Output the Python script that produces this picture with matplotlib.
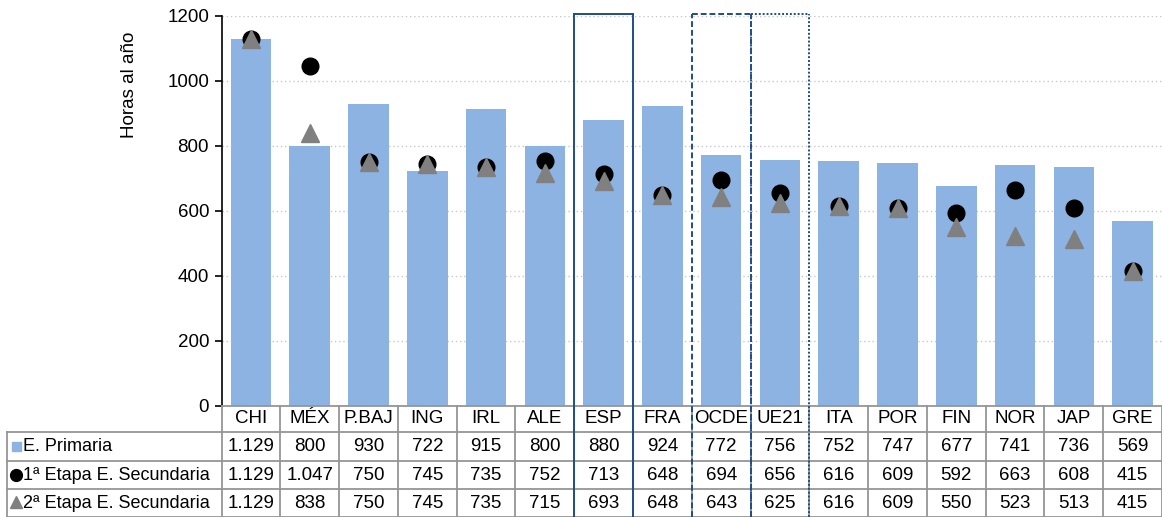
import matplotlib
matplotlib.use("Agg")
import matplotlib.pyplot as plt
from matplotlib.patches import Rectangle
from matplotlib.lines import Line2D
from matplotlib.transforms import blended_transform_factory

plt.rcParams['font.family'] = ['Liberation Sans', 'DejaVu Sans']

paises = ["CHI", "MÉX", "P.BAJ", "ING", "IRL", "ALE", "ESP", "FRA", "OCDE",
          "UE21", "ITA", "POR", "FIN", "NOR", "JAP", "GRE"]
primaria = [1129, 800, 930, 722, 915, 800, 880, 924, 772, 756, 752, 747, 677, 741, 736, 569]
sec1 = [1129, 1047, 750, 745, 735, 752, 713, 648, 694, 656, 616, 609, 592, 663, 608, 415]
sec2 = [1129, 838, 750, 745, 735, 715, 693, 648, 643, 625, 616, 609, 550, 523, 513, 415]
series = ["E. Primaria", "1ª Etapa E. Secundaria", "2ª Etapa E. Secundaria"]
yticks = [0, 200, 400, 600, 800, 1000, 1200]


def fmt(v):
    s = f"{v:,}"
    return s.replace(",", ".")


FS = 13.5
W, H = 1162, 517
fig = plt.figure(figsize=(W / 100, H / 100), dpi=100)
ax_left, ax_top, ax_bottom = 221.6, 16, 405.5
ax = fig.add_axes([ax_left / W, 1 - ax_bottom / H, 1 - ax_left / W, (ax_bottom - ax_top) / H])

bar_color = "#8DB3E2"
x = list(range(len(paises)))
ax.bar(x, primaria, width=0.69, color=bar_color, zorder=2)
ax.plot(x, sec1, linestyle="none", marker="o", markersize=12, color="black", zorder=3)
ax.plot(x, sec2, linestyle="none", marker="^", markersize=13, color="#808080", zorder=4)

ax.set_xlim(-0.5, len(paises) - 0.5)
ax.set_ylim(0, 1200)
ax.set_yticks(yticks)
ax.set_yticklabels([str(t) for t in yticks], fontsize=FS)
ax.set_xticks([])
ax.yaxis.grid(True, linestyle=(0, (1, 2)), color="#C8C8C8", linewidth=1, zorder=0)
for side in ["top", "right", "bottom"]:
    ax.spines[side].set_visible(False)
ax.spines["left"].set_linewidth(1.2)
ax.tick_params(axis="y", length=5, width=1.2, pad=4)

fig.text(130 / W, 1 - 85 / H, "Horas al año", rotation=90, fontsize=FS,
         ha="center", va="center")

# data table under the axes
tx = blended_transform_factory(ax.transData, fig.transFigure)
fy = lambda py: 1 - py / H
grid_c = "#959595"
rows = [405.5, 432, 461, 489, 517]
n = len(paises)

for i, p in enumerate(paises):
    fig.text(i, fy((rows[0] + rows[1]) / 2), p, transform=tx, ha="center",
             va="center", fontsize=FS)
for r, vals in enumerate([primaria, sec1, sec2]):
    yc = fy((rows[r + 1] + rows[r + 2]) / 2)
    for i, v in enumerate(vals):
        fig.text(i, yc, fmt(v), transform=tx, ha="center", va="center", fontsize=FS)

# horizontal grid of the table
fig.add_artist(Line2D([ax_left / W, 1], [fy(rows[0])] * 2, color=grid_c, lw=1.3,
                      transform=fig.transFigure))
for py in rows[1:]:
    fig.add_artist(Line2D([7 / W, 1], [fy(py)] * 2, color=grid_c, lw=1.3,
                          transform=fig.transFigure))
# vertical grid of the table
for b in range(n + 1):
    fig.add_artist(Line2D([b - 0.5] * 2, [fy(rows[0]), fy(H)], color=grid_c, lw=1.3,
                          transform=tx))
fig.add_artist(Line2D([7 / W] * 2, [fy(rows[1]), fy(H)], color=grid_c, lw=1.3,
                      transform=fig.transFigure))

# row headers with legend keys
key_x = 16 / W
lab_x = 23 / W
for r, lab in enumerate(series):
    yc = fy((rows[r + 1] + rows[r + 2]) / 2)
    if r == 0:
        fig.add_artist(Rectangle((12 / W, yc - 4.5 / H), 9 / W, 9 / H,
                                 color=bar_color, transform=fig.transFigure))
    elif r == 1:
        fig.add_artist(Line2D([key_x], [yc], marker="o", markersize=8.5,
                              color="black", transform=fig.transFigure))
    else:
        fig.add_artist(Line2D([key_x], [yc + 1 / H], marker="^", markersize=8,
                              color="#808080", transform=fig.transFigure))
    fig.text(lab_x, yc, lab, ha="left", va="center", fontsize=13)

# highlight boxes around ESP, OCDE and UE21
box_c = "#1F4E8C"
styles = {"ESP": "-", "OCDE": (0, (3, 1.5)), "UE21": (0, (1, 1))}
for name, ls in styles.items():
    i = paises.index(name)
    for xs, ys in [([i - 0.5, i - 0.5], [fy(H), fy(14)]),
                   ([i + 0.5, i + 0.5], [fy(H), fy(14)]),
                   ([i - 0.5, i + 0.5], [fy(14), fy(14)])]:
        fig.add_artist(Line2D(xs, ys, color=box_c, lw=1.4, linestyle=ls,
                              transform=tx, zorder=6))

fig.savefig("out.png", dpi=100)
